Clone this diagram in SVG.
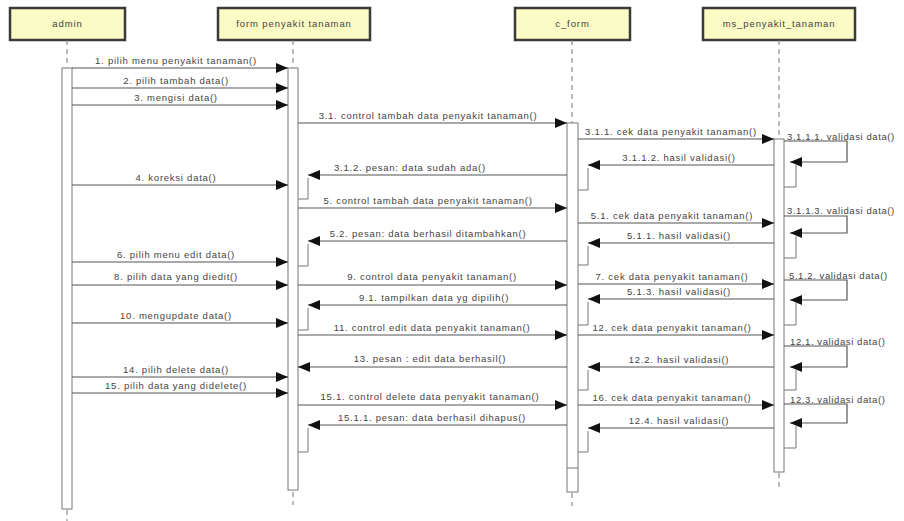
<svg xmlns="http://www.w3.org/2000/svg" width="904" height="521" viewBox="0 0 904 521">
<style>
.box{fill:#fbfbc6;stroke:#3a3a3a;stroke-width:2.5}
.bt{font-family:"Liberation Sans",Arial,sans-serif;font-size:9.5px;letter-spacing:0.9px;fill:#444;text-anchor:middle}
.life{stroke:#777;stroke-width:1;stroke-dasharray:5,4;fill:none}
.act{fill:#fff;stroke:#777;stroke-width:1}
.mk{stroke:#555;stroke-width:1.2;fill:none;marker-end:url(#ah)}
.br{stroke:#777;stroke-width:1;fill:none}
.t{font-family:"Liberation Sans",Arial,sans-serif;font-size:9.5px;letter-spacing:0.75px;fill:#444;text-anchor:middle}
.ts{font-family:"Liberation Sans",Arial,sans-serif;font-size:9.5px;letter-spacing:0.6px;fill:#444;text-anchor:start}
</style>
<defs>
<marker id="ah" viewBox="0 0 12 10" refX="12" refY="5" markerWidth="12" markerHeight="10" markerUnits="userSpaceOnUse" orient="auto">
<path d="M0,0 L12,5 L0,10 Z" fill="#111"/>
</marker>
</defs>
<rect width="904" height="521" fill="#fff"/>

<g id="admin">
<rect class="box" x="10" y="8" width="115" height="32"/>
<text class="bt" x="67.5" y="27">admin</text>
<line class="life" x1="67" y1="40" x2="67" y2="68"/>
<rect class="act" x="62" y="68" width="10" height="441"/>
<line class="life" x1="67" y1="510" x2="67" y2="521"/>
</g>

<g id="form_penyakit_tanaman">
<rect class="box" x="218" y="8" width="152" height="32"/>
<text class="bt" x="294" y="27">form penyakit tanaman</text>
<line class="life" x1="293" y1="40" x2="293" y2="68"/>
<rect class="act" x="288" y="68" width="10" height="422"/>
<line class="life" x1="293" y1="492" x2="293" y2="505"/>
</g>

<g id="c_form">
<rect class="box" x="515" y="8" width="115" height="32"/>
<text class="bt" x="572.5" y="27">c_form</text>
<line class="life" x1="572" y1="40" x2="572" y2="123"/>
<rect class="act" x="567" y="123" width="11" height="369"/>
<line class="br" x1="567" y1="468" x2="578" y2="468"/>
<line class="life" x1="572" y1="493" x2="572" y2="506"/>
</g>

<g id="ms_penyakit_tanaman">
<rect class="box" x="703" y="8" width="152" height="32"/>
<text class="bt" x="779" y="27">ms_penyakit_tanaman</text>
<line class="life" x1="779" y1="40" x2="779" y2="139"/>
<rect class="act" x="774" y="139" width="10" height="333"/>
<line class="life" x1="779" y1="473" x2="779" y2="490"/>
</g>

<g id="connectors">
<line class="mk" x1="72" y1="68" x2="288" y2="68"/>
<line class="mk" x1="72" y1="88" x2="288" y2="88"/>
<line class="mk" x1="72" y1="105" x2="288" y2="105"/>
<line class="mk" x1="72" y1="185" x2="288" y2="185"/>
<line class="mk" x1="72" y1="262" x2="288" y2="262"/>
<line class="mk" x1="72" y1="285" x2="288" y2="285"/>
<line class="mk" x1="72" y1="323" x2="288" y2="323"/>
<line class="mk" x1="72" y1="377" x2="288" y2="377"/>
<line class="mk" x1="72" y1="393" x2="288" y2="393"/>
<line class="mk" x1="298" y1="123" x2="567" y2="123"/>
<line class="mk" x1="298" y1="208" x2="567" y2="208"/>
<line class="mk" x1="298" y1="285" x2="567" y2="285"/>
<line class="mk" x1="298" y1="335" x2="567" y2="335"/>
<line class="mk" x1="298" y1="405" x2="567" y2="405"/>
<line class="mk" x1="567" y1="175" x2="308" y2="175"/>
<line class="mk" x1="567" y1="241" x2="308" y2="241"/>
<line class="mk" x1="567" y1="305" x2="308" y2="305"/>
<line class="mk" x1="567" y1="367" x2="298" y2="367"/>
<line class="mk" x1="567" y1="425" x2="308" y2="425"/>
<path class="br" d="M308,178 V199 H298"/>
<path class="br" d="M308,244 V266 H298"/>
<path class="br" d="M308,308 V330 H298"/>
<path class="br" d="M308,428 V452 H298"/>
<line class="mk" x1="578" y1="139" x2="774" y2="139"/>
<line class="mk" x1="578" y1="223" x2="774" y2="223"/>
<line class="mk" x1="578" y1="284" x2="774" y2="284"/>
<line class="mk" x1="578" y1="335" x2="774" y2="335"/>
<line class="mk" x1="578" y1="405" x2="774" y2="405"/>
<line class="mk" x1="774" y1="165" x2="588" y2="165"/>
<line class="mk" x1="774" y1="243" x2="588" y2="243"/>
<line class="mk" x1="774" y1="299" x2="588" y2="299"/>
<line class="mk" x1="774" y1="367" x2="588" y2="367"/>
<line class="mk" x1="774" y1="428" x2="588" y2="428"/>
<path class="br" d="M588,168 V190 H578"/>
<path class="br" d="M588,246 V265 H578"/>
<path class="br" d="M588,302 V325 H578"/>
<path class="br" d="M588,370 V390 H578"/>
<path class="br" d="M588,431 V452 H578"/>
<path class="mk" d="M784,141 H847 V162 H790"/>
<path class="mk" d="M784,216 H847 V233 H790"/>
<path class="mk" d="M784,280 H847 V300 H790"/>
<path class="mk" d="M784,346 H847 V367 H790"/>
<path class="mk" d="M784,404 H847 V423 H790"/>
<path class="br" d="M796,165 V187 H784"/>
<path class="br" d="M796,236 V258 H784"/>
<path class="br" d="M796,303 V325 H784"/>
<path class="br" d="M796,370 V390 H784"/>
<path class="br" d="M796,426 V448 H784"/>

<text class="t" x="176" y="64">1. pilih menu penyakit tanaman()</text>
<text class="t" x="176" y="84">2. pilih tambah data()</text>
<text class="t" x="176" y="101">3. mengisi data()</text>
<text class="t" x="176" y="181">4. koreksi data()</text>
<text class="t" x="176" y="258">6. pilih menu edit data()</text>
<text class="t" x="176" y="280">8. pilih data yang diedit()</text>
<text class="t" x="176" y="319">10. mengupdate data()</text>
<text class="t" x="176" y="373">14. pilih delete data()</text>
<text class="t" x="176" y="389">15. pilih data yang didelete()</text>

<text class="t" x="428" y="119">3.1. control tambah data penyakit tanaman()</text>
<text class="t" x="428" y="204">5. control tambah data penyakit tanaman()</text>
<text class="t" x="432" y="280">9. control data penyakit tanaman()</text>
<text class="t" x="432" y="331">11. control edit data penyakit tanaman()</text>
<text class="t" x="430" y="400">15.1. control delete data penyakit tanaman()</text>

<text class="t" x="410" y="171">3.1.2. pesan: data sudah ada()</text>
<text class="t" x="428" y="237">5.2. pesan: data berhasil ditambahkan()</text>
<text class="t" x="434" y="301">9.1. tampilkan data yg dipilih()</text>
<text class="t" x="430" y="362">13. pesan : edit data berhasil()</text>
<text class="t" x="432" y="421">15.1.1. pesan: data berhasil dihapus()</text>

<text class="t" x="671" y="135">3.1.1. cek data penyakit tanaman()</text>
<text class="t" x="672" y="219">5.1. cek data penyakit tanaman()</text>
<text class="t" x="672" y="280">7. cek data penyakit tanaman()</text>
<text class="t" x="672" y="331">12. cek data penyakit tanaman()</text>
<text class="t" x="672" y="401">16. cek data penyakit tanaman()</text>

<text class="t" x="679" y="161">3.1.1.2. hasil validasi()</text>
<text class="t" x="679" y="239">5.1.1. hasil validasi()</text>
<text class="t" x="679" y="295">5.1.3. hasil validasi()</text>
<text class="t" x="679" y="363">12.2. hasil validasi()</text>
<text class="t" x="679" y="424">12.4. hasil validasi()</text>

<text class="ts" x="787" y="140">3.1.1.1. validasi data()</text>
<text class="ts" x="787" y="214">3.1.1.3. validasi data()</text>
<text class="ts" x="789" y="279">5.1.2. validasi data()</text>
<text class="ts" x="790" y="345">12.1. validasi data()</text>
<text class="ts" x="790" y="403">12.3. validasi data()</text>
</g>
</svg>
